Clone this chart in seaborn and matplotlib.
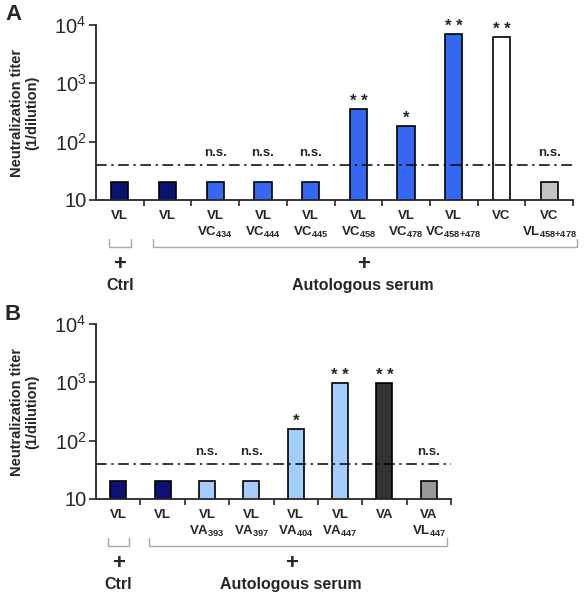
import numpy as np
import pandas as pd
import seaborn as sns
from matplotlib import pyplot as plt
from matplotlib.ticker import FixedLocator, FixedFormatter

# panel A
A_LABELS = [
    "VL", "VL",
    "VL\nVC$_{\\mathbf{434}}$", "VL\nVC$_{\\mathbf{444}}$", "VL\nVC$_{\\mathbf{445}}$",
    "VL\nVC$_{\\mathbf{458}}$", "VL\nVC$_{\\mathbf{478}}$",
    "VL\nVC$_{\\mathbf{458{+}478}}$", "VC", "VC\nVL$_{\\mathbf{458{+}478}}$",
]
A_TITER = [20, 20, 20, 20, 20, 360, 185, 7100, 6300, 20]
A_SIG = ["", "", "n.s.", "n.s.", "n.s.", "**", "*", "**", "**", "n.s."]
A_COLORS = ["#0b1273", "#0b1273", "#3468f2", "#3468f2", "#3468f2",
            "#3468f2", "#3468f2", "#3468f2", "#ffffff", "#c4c4c4"]

# panel B
B_LABELS = [
    "VL", "VL",
    "VL\nVA$_{\\mathbf{393}}$", "VL\nVA$_{\\mathbf{397}}$", "VL\nVA$_{\\mathbf{404}}$",
    "VL\nVA$_{\\mathbf{447}}$", "VA", "VA\nVL$_{\\mathbf{447}}$",
]
B_TITER = [20, 20, 20, 20, 160, 980, 980, 20]
B_SIG = ["", "", "n.s.", "n.s.", "*", "**", "**", "n.s."]
B_COLORS = ["#0b1273", "#0b1273", "#a3cdfa", "#a3cdfa", "#a3cdfa",
            "#a3cdfa", "#333333", "#999999"]

Y_TICKS = [10, 100, 1000, 10000]
Y_TICKLABELS = ["10", "10$^2$", "10$^3$", "10$^4$"]
CUTOFF = 40

sns.set_style("ticks")
plt.rcParams["font.family"] = ["Liberation Sans", "DejaVu Sans"]
plt.rcParams["mathtext.fontset"] = "custom"
plt.rcParams["mathtext.rm"] = "Liberation Sans"
plt.rcParams["mathtext.bf"] = "Liberation Sans:bold"

fig = plt.figure(figsize=(5.87, 6.0), dpi=100)
W, H = 587, 600


def panel(rect, labels, titer, sig, colors, letter, bracket_end, auto_center):
    l, t, r, b = rect
    ax = fig.add_axes([l / W, 1 - b / H, (r - l) / W, (b - t) / H])
    n = len(labels)
    df = pd.DataFrame({"pos": [str(i) for i in range(n)], "titer": titer})
    sns.barplot(data=df, x="pos", y="titer", hue="pos", palette=colors,
                saturation=1, width=0.36, edgecolor="black", linewidth=1.2,
                legend=False, ax=ax)
    ax.set_yscale("log")
    ax.set_ylim(10, 10000)
    ax.set_xlim(-0.5, n - 0.5)
    ax.yaxis.set_major_locator(FixedLocator(Y_TICKS))
    ax.yaxis.set_major_formatter(FixedFormatter(Y_TICKLABELS))
    ax.yaxis.set_minor_locator(FixedLocator([]))
    ax.tick_params(axis="y", labelsize=14.5, length=5, width=1.2, direction="out", pad=2)
    ax.set_xticks(range(n))
    ax.set_xticklabels(labels, fontsize=9.5, fontweight="bold", linespacing=1.3)
    ax.xaxis.set_minor_locator(FixedLocator(np.arange(0.5, n, 1.0)))
    ax.tick_params(axis="x", which="major", length=0, pad=7)
    ax.tick_params(axis="x", which="minor", length=4, width=1.2, direction="out")
    ax.set_xlabel("")
    ax.set_ylabel("Neutralization titer\n(1/dilution)", fontsize=10.5,
                  fontweight="bold", linespacing=1.1)
    ax.yaxis.set_label_coords(39 / W, 1 - (t + b) / 2 / H, transform=fig.transFigure)
    sns.despine(ax=ax)
    ax.spines["left"].set_linewidth(1.3)
    ax.spines["bottom"].set_linewidth(1.3)

    ax.axhline(CUTOFF, color="black", linestyle=(0, (7, 3, 1.5, 3)), linewidth=1.1)

    for i, (v, s) in enumerate(zip(titer, sig)):
        if s == "n.s.":
            ax.annotate(s, (i, CUTOFF), xytext=(0, 4), textcoords="offset points",
                        ha="center", va="bottom", fontsize=9.5, fontweight="bold")
        elif s:
            ax.annotate(" ".join(s), (i, v), xytext=(0, 0), textcoords="offset points",
                        ha="center", va="bottom", fontsize=12, fontweight="bold")

    tr = ax.get_xaxis_transform()
    yb, yt = -0.27, -0.225
    for x0, x1 in [(-0.22, 0.24), (0.7, bracket_end)]:
        ax.plot([x0, x0, x1, x1], [yt, yb, yb, yt], color="#a8a8a8",
                linewidth=1.0, transform=tr, clip_on=False)
    ax.text(0, -0.37, "+", transform=tr, ha="center", va="center",
            fontsize=16, fontweight="bold")
    ax.text(0, -0.49, "Ctrl", transform=tr, ha="center", va="center",
            fontsize=11.5, fontweight="bold")
    ax.text(auto_center, -0.37, "+", transform=tr, ha="center", va="center",
            fontsize=16, fontweight="bold")
    ax.text(auto_center, -0.49, "Autologous serum", transform=tr, ha="center",
            va="center", fontsize=11.5, fontweight="bold")
    fig.text(5 / W, 1 - (t - 10) / H, letter, fontsize=16, fontweight="bold",
             ha="left", va="center")
    return ax


panel((96, 25, 573, 200), A_LABELS, A_TITER, A_SIG, A_COLORS, "A", 9.58, 5.1)
panel((96, 324, 451, 499), B_LABELS, B_TITER, B_SIG, B_COLORS, "B", 7.42, 3.9)

fig.savefig("out.png", dpi=100)
